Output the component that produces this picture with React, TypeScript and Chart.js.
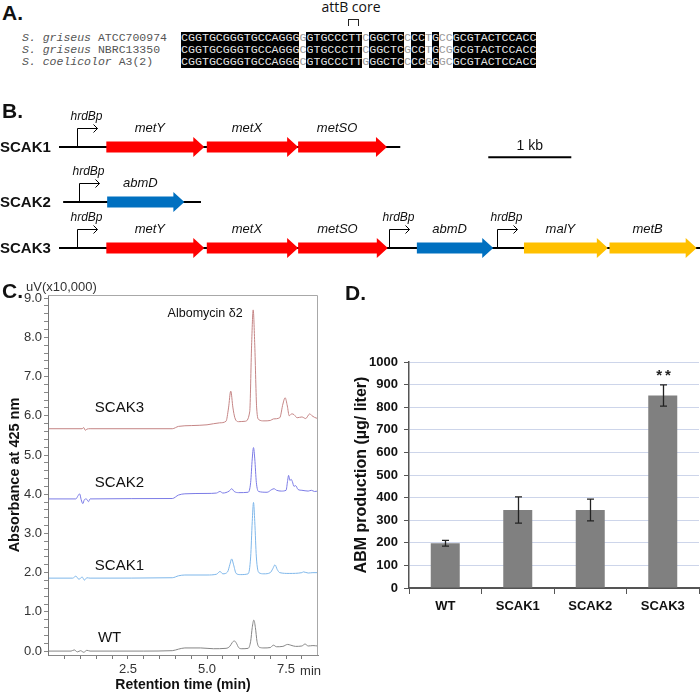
import React, { useEffect, useRef } from 'react';
import { Chart, registerables } from 'chart.js';
Chart.register(...registerables);

const FONT = '"Liberation Sans", Arial, Helvetica, sans-serif';
const MONO = '"Liberation Mono", "Courier New", monospace';

// ---------------- Panel A: attB alignment ----------------
const speciesGenus = ['S. griseus', 'S. griseus', 'S. coelicolor'];
const speciesStrain = ['ATCC700974', 'NBRC13350', 'A3(2)'];
const alignRows = [
  'CGGTGCGGGTGCCAGGGGGTGCCCTTCGGCTCCCCTGCCGCGTACTCCACC',
  'CGGTGCGGGTGCCAGGGCGTGCCCTTCGGCTCGCCTGCGGCGTACTCCACC',
  'CGGTGCGGGTGCCAGGGCGTGCCCTTGGGCTCCCCGGGCGCGTACTCCACC',
];
const attbLabel = 'attB core';

// ---------------- Panel B: constructs (kb) ----------------
const constructNames = ['SCAK1', 'SCAK2', 'SCAK3'];
const constructTrackY = [3.35, 6.32, 8.81];
const backboneStartKb = [0, 0.05, 0];
const backboneEndKb = [4.11, 1.71, 7.72];
const geneNames = ['metY', 'metX', 'metSO', 'abmD', 'metY', 'metX', 'metSO', 'abmD', 'malY', 'metB'];
const geneTrack = [0, 0, 0, 1, 2, 2, 2, 2, 2, 2];
const geneStartKb = [0.57, 1.78, 2.88, 0.58, 0.57, 1.78, 2.88, 4.31, 5.6, 6.63];
const geneEndKb = [1.75, 2.88, 3.95, 1.51, 1.75, 2.88, 3.96, 5.23, 6.61, 7.68];
const promoterName = 'hrdBp';
const promoterTrack = [0, 1, 2, 2, 2];
const promoterKb = [0.22, 0.24, 0.22, 3.98, 5.27];
const scaleBarKb = [5.17, 6.17];
const scaleBarY = 3.9;
const scaleBarLabel = '1 kb';

// ---------------- Panel C: HPLC traces (min, uV x10,000) ----------------
const wtTrace = [[0,0],[0.7,0],[0.8,0.03],[0.9,-0.02],[1.0,0.01],[1.1,-0.03],[1.2,0.02],[1.3,0],[2.0,0],[3.0,0],[3.9,0.01],[4.1,0.05],[4.3,0.08],[4.8,0.08],[5.2,0.06],[5.6,0.07],[5.72,0.12],[5.8,0.22],[5.86,0.26],[5.93,0.2],[6.0,0.09],[6.1,0.06],[6.3,0.07],[6.38,0.25],[6.43,0.6],[6.48,0.79],[6.53,0.6],[6.58,0.25],[6.65,0.1],[6.8,0.08],[7.0,0.09],[7.1,0.15],[7.2,0.11],[7.4,0.12],[7.55,0.17],[7.65,0.15],[7.8,0.12],[8.0,0.13],[8.1,0.18],[8.2,0.13],[8.35,0.14],[8.5,0.13]];
const scak1Trace = [[0,1.86],[0.75,1.86],[0.85,1.91],[0.95,1.83],[1.05,1.89],[1.12,1.81],[1.2,1.87],[1.3,1.86],[3.9,1.87],[4.1,1.92],[4.3,1.94],[5.0,1.94],[5.3,1.96],[5.41,2.03],[5.5,1.97],[5.65,2.02],[5.72,2.2],[5.78,2.35],[5.84,2.2],[5.92,1.98],[6.05,1.95],[6.3,1.97],[6.38,2.4],[6.43,3.3],[6.47,3.79],[6.51,3.3],[6.56,2.4],[6.64,2.0],[6.8,1.97],[7.0,2.0],[7.08,2.1],[7.15,2.2],[7.22,2.08],[7.3,2.0],[7.6,1.98],[8.0,2.0],[8.05,2.02],[8.2,1.99],[8.35,2.0],[8.5,2.0]];
const scak2Trace = [[0,3.88],[0.85,3.88],[0.92,3.96],[0.97,4.01],[1.02,3.86],[1.07,3.76],[1.12,3.86],[1.18,3.88],[1.25,3.81],[1.3,3.88],[3.9,3.89],[4.1,3.98],[4.3,4.01],[5.0,4.02],[5.3,4.03],[5.41,4.07],[5.5,4.03],[5.7,4.08],[5.78,4.14],[5.86,4.07],[6.0,4.04],[6.3,4.05],[6.38,4.3],[6.43,4.9],[6.47,5.19],[6.51,4.9],[6.56,4.3],[6.63,4.07],[6.9,4.05],[7.05,4.12],[7.12,4.14],[7.2,4.1],[7.35,4.08],[7.5,4.1],[7.55,4.35],[7.58,4.48],[7.62,4.35],[7.66,4.38],[7.7,4.32],[7.75,4.2],[7.8,4.22],[7.88,4.12],[8.0,4.1],[8.2,4.08],[8.3,4.1],[8.4,4.07],[8.5,4.08]];
const scak3Trace = [[0,5.67],[1.05,5.67],[1.1,5.7],[1.15,5.63],[1.2,5.66],[1.3,5.67],[3.9,5.67],[4.1,5.73],[4.5,5.75],[5.0,5.77],[5.4,5.82],[5.6,5.86],[5.68,6.2],[5.75,6.63],[5.82,6.2],[5.88,5.95],[6.0,5.85],[6.2,5.86],[6.35,6.1],[6.41,7.8],[6.46,8.7],[6.51,7.8],[6.57,6.2],[6.64,5.9],[6.8,5.87],[7.0,5.88],[7.1,5.92],[7.3,5.95],[7.4,6.3],[7.47,6.46],[7.54,6.25],[7.6,6.0],[7.68,6.05],[7.75,6.03],[7.85,5.95],[8.0,5.97],[8.12,5.93],[8.25,6.05],[8.32,6.0],[8.4,5.96],[8.5,5.93]];
const traceNames = ['SCAK3', 'SCAK2', 'SCAK1', 'WT'];
const traceData = [scak3Trace, scak2Trace, scak1Trace, wtTrace];
const traceLabelAt = [[1.45, 6.2], [1.45, 4.3], [1.45, 2.18], [1.55, 0.33]];
const peakLabel = 'Albomycin δ2';
const peakLabelAt = [4.94, 8.6];
const rtTickValues = [0.5, 1.0, 1.5, 2.0, 2.5, 3.0, 3.5, 4.0, 4.5, 5.0, 5.5, 6.0, 6.5, 7.0, 7.5, 8.0];
const rtLabelValues = [2.5, 5.0, 7.5];
const absLabelValues = [0, 1, 2, 3, 4, 5, 6, 7, 8, 9];
const absMinorStep = 0.2;

// ---------------- Panel D: ABM production ----------------
const strainLabels = ['WT', 'SCAK1', 'SCAK2', 'SCAK3'];
const abmProduction = [198, 345, 345, 852];
const abmError = [13, 58, 48, 47];
const abmSignificance = ['', '', '', '**'];

const geneColorOf: Record<string, string> = {
  metY: '#ff0000', metX: '#ff0000', metSO: '#ff0000',
  abmD: '#0070c0', malY: '#ffc000', metB: '#ffc000',
};
const traceColors = ['#c58585', '#7b7be6', '#7fb7ea', '#858585'];

function makeB(canvas: HTMLCanvasElement) {
  const plugin = {
    id: 'geneMap',
    afterDraw(chart: any) {
      const { ctx, scales: { x, y } } = chart;
      ctx.save();
      constructNames.forEach((name, t) => {
        const py = y.getPixelForValue(constructTrackY[t]);
        ctx.strokeStyle = '#000';
        ctx.lineWidth = 2;
        ctx.beginPath();
        ctx.moveTo(x.getPixelForValue(backboneStartKb[t]), py);
        ctx.lineTo(x.getPixelForValue(backboneEndKb[t]), py);
        ctx.stroke();
        ctx.fillStyle = '#111';
        ctx.font = `bold 15px ${FONT}`;
        ctx.textAlign = 'left';
        ctx.textBaseline = 'middle';
        ctx.fillText(name, 0, py + 1);
      });
      geneNames.forEach((g, i) => {
        const py = y.getPixelForValue(constructTrackY[geneTrack[i]]);
        const x1 = x.getPixelForValue(geneStartKb[i]);
        const x2 = x.getPixelForValue(geneEndKb[i]);
        const bodyH = 5.5, headH = 10, headL = 11;
        const hx = Math.max(x1, x2 - headL);
        ctx.beginPath();
        ctx.moveTo(x1, py - bodyH);
        ctx.lineTo(hx, py - bodyH);
        ctx.lineTo(hx, py - headH);
        ctx.lineTo(x2, py);
        ctx.lineTo(hx, py + headH);
        ctx.lineTo(hx, py + bodyH);
        ctx.lineTo(x1, py + bodyH);
        ctx.closePath();
        ctx.fillStyle = geneColorOf[g];
        ctx.fill();
        ctx.fillStyle = '#111';
        ctx.font = `italic 13px ${FONT}`;
        ctx.textAlign = 'center';
        ctx.textBaseline = 'middle';
        ctx.fillText(g, (x1 + hx) / 2, py - 19);
      });
      promoterKb.forEach((kb, i) => {
        const px = Math.round(x.getPixelForValue(kb)) + 0.5;
        const py = y.getPixelForValue(constructTrackY[promoterTrack[i]]);
        const top = Math.round(py - 19) + 0.5;
        ctx.strokeStyle = '#000';
        ctx.lineWidth = 1;
        ctx.beginPath();
        ctx.moveTo(px, py);
        ctx.lineTo(px, top);
        ctx.lineTo(px + 20, top);
        ctx.stroke();
        ctx.beginPath();
        ctx.moveTo(px + 16, top - 4);
        ctx.lineTo(px + 20, top);
        ctx.lineTo(px + 16, top + 4);
        ctx.stroke();
        ctx.fillStyle = '#111';
        ctx.font = `italic 12px ${FONT}`;
        ctx.textAlign = 'center';
        ctx.textBaseline = 'middle';
        ctx.fillText(promoterName, px + 9, py - 30);
      });
      const sy = y.getPixelForValue(scaleBarY);
      const sx1 = x.getPixelForValue(scaleBarKb[0]);
      const sx2 = x.getPixelForValue(scaleBarKb[1]);
      ctx.strokeStyle = '#000';
      ctx.lineWidth = 2;
      ctx.beginPath();
      ctx.moveTo(sx1, sy);
      ctx.lineTo(sx2, sy);
      ctx.stroke();
      ctx.fillStyle = '#111';
      ctx.font = `14px ${FONT}`;
      ctx.textAlign = 'center';
      ctx.textBaseline = 'middle';
      ctx.fillText(scaleBarLabel, (sx1 + sx2) / 2, sy - 11);
      ctx.restore();
    },
  };
  return new Chart(canvas, {
    type: 'scatter',
    data: { datasets: [] },
    options: {
      animation: false,
      responsive: false,
      events: [],
      layout: { padding: { left: 59, right: 0, top: 0, bottom: 0 } },
      plugins: { legend: { display: false }, tooltip: { enabled: false } },
      scales: {
        x: { type: 'linear', min: 0, max: 7.72, display: false },
        y: { type: 'linear', min: 0, max: 10, reverse: true, display: false },
      },
    },
    plugins: [plugin],
  } as any);
}

function makeC(canvas: HTMLCanvasElement) {
  const absTicks: number[] = [];
  for (let k = 0; k <= Math.round(9 / absMinorStep); k++) absTicks.push(Math.round(k * absMinorStep * 10) / 10);
  const plugin = {
    id: 'chromAnno',
    afterDraw(chart: any) {
      const { ctx, chartArea: a, scales: { x, y } } = chart;
      ctx.save();
      ctx.strokeStyle = '#a8a8a8';
      ctx.lineWidth = 1;
      ctx.beginPath();
      ctx.moveTo(a.left, a.top + 0.5);
      ctx.lineTo(a.right - 0.5, a.top + 0.5);
      ctx.lineTo(a.right - 0.5, a.bottom);
      ctx.stroke();
      ctx.fillStyle = '#333';
      ctx.font = `13px ${FONT}`;
      ctx.textAlign = 'left';
      ctx.textBaseline = 'middle';
      ctx.fillText('uV(x10,000)', a.left - 22, a.top - 8);
      ctx.fillText('min', x.getPixelForValue(7.5) + 14, a.bottom + 16);
      ctx.fillStyle = '#111';
      ctx.font = `15px ${FONT}`;
      traceNames.forEach((n, i) => {
        ctx.fillText(n, x.getPixelForValue(traceLabelAt[i][0]), y.getPixelForValue(traceLabelAt[i][1]));
      });
      ctx.font = `12.5px ${FONT}`;
      ctx.textAlign = 'center';
      ctx.fillText(peakLabel, x.getPixelForValue(peakLabelAt[0]), y.getPixelForValue(peakLabelAt[1]));
      ctx.restore();
    },
  };
  return new Chart(canvas, {
    type: 'line',
    data: {
      datasets: traceData.map((tr, i) => ({
        label: traceNames[i],
        data: tr.map(([t, v]) => ({ x: t, y: v })),
        borderColor: traceColors[i],
        borderWidth: 1,
        pointRadius: 0,
        cubicInterpolationMode: 'monotone',
        fill: false,
      })),
    },
    options: {
      animation: false,
      responsive: false,
      events: [],
      layout: { padding: { left: 0, right: 12, top: 15, bottom: 0 } },
      plugins: { legend: { display: false }, tooltip: { enabled: false } },
      scales: {
        x: {
          type: 'linear', min: -0.03, max: 8.51,
          afterBuildTicks: (ax: any) => { ax.ticks = rtTickValues.map((v) => ({ value: v })); },
          afterFit: (ax: any) => { ax.height = 40; },
          ticks: {
            autoSkip: false, maxRotation: 0, padding: 3, color: '#333',
            font: { family: FONT, size: 13 },
            callback: (v: number) => (rtLabelValues.some((l) => Math.abs(l - v) < 1e-6) ? v.toFixed(1) : ''),
          },
          grid: { drawOnChartArea: false, drawTicks: true, tickLength: 4, tickColor: '#777' },
          border: { display: true, color: '#888', width: 1 },
          title: {
            display: true, text: 'Retention time (min)', color: '#111',
            font: { family: FONT, size: 14, weight: 'bold' }, padding: { top: 0, bottom: 1 },
          },
        },
        y: {
          type: 'linear', min: -0.1, max: 9.08,
          afterBuildTicks: (ax: any) => { ax.ticks = absTicks.map((v) => ({ value: v })); },
          afterFit: (ax: any) => { ax.width = 48; },
          ticks: {
            autoSkip: false, padding: 2, color: '#333',
            font: { family: FONT, size: 13 },
            callback: (v: number) => (absLabelValues.some((l) => Math.abs(l - v) < 1e-6) ? v.toFixed(1) : ''),
          },
          grid: { drawOnChartArea: false, drawTicks: true, tickLength: 4, tickColor: '#888' },
          border: { display: true, color: '#777', width: 1 },
          title: {
            display: true, text: 'Absorbance at 425 nm', color: '#111',
            font: { family: FONT, size: 14.5, weight: 'bold' }, padding: { top: 6, bottom: 0 },
          },
        },
      },
    },
    plugins: [plugin],
  } as any);
}

function makeD(canvas: HTMLCanvasElement) {
  const plugin = {
    id: 'errBars',
    afterDatasetsDraw(chart: any) {
      const { ctx, scales: { y } } = chart;
      const meta = chart.getDatasetMeta(0);
      ctx.save();
      ctx.strokeStyle = '#222';
      ctx.lineWidth = 1.3;
      meta.data.forEach((bar: any, i: number) => {
        const top = y.getPixelForValue(abmProduction[i] + abmError[i]);
        const bot = y.getPixelForValue(abmProduction[i] - abmError[i]);
        const bx = Math.round(bar.x) + 0.5;
        ctx.beginPath();
        ctx.moveTo(bx, top); ctx.lineTo(bx, bot);
        ctx.moveTo(bx - 3.5, top); ctx.lineTo(bx + 3.5, top);
        ctx.moveTo(bx - 3.5, bot); ctx.lineTo(bx + 3.5, bot);
        ctx.stroke();
        if (abmSignificance[i]) {
          ctx.fillStyle = '#222';
          ctx.font = `bold 15px ${FONT}`;
          (ctx as any).letterSpacing = '3px';
          ctx.textAlign = 'center';
          ctx.textBaseline = 'middle';
          ctx.fillText(abmSignificance[i], bx + 1.5, top - 9);
          (ctx as any).letterSpacing = '0px';
        }
      });
      ctx.restore();
    },
  };
  return new Chart(canvas, {
    type: 'bar',
    data: {
      labels: strainLabels,
      datasets: [{
        data: abmProduction, backgroundColor: '#808080', borderWidth: 0,
        barPercentage: 0.5, categoryPercentage: 0.8,
      }],
    },
    options: {
      animation: false,
      responsive: false,
      events: [],
      layout: { padding: { left: 0, right: 1, top: 82, bottom: 0 } },
      plugins: { legend: { display: false }, tooltip: { enabled: false } },
      scales: {
        x: {
          afterFit: (ax: any) => { ax.height = 107; },
          ticks: { color: '#111', padding: 5, font: { family: FONT, size: 13, weight: 'bold' } },
          grid: { drawOnChartArea: false, drawTicks: true, tickLength: 6, tickColor: '#555', offset: true },
          border: { display: true, color: '#555', width: 2 },
        },
        y: {
          min: 0, max: 1000,
          afterFit: (ax: any) => { ax.width = 79; },
          ticks: {
            stepSize: 100, color: '#111', padding: 6, font: { family: FONT, size: 13, weight: 'bold' },
            callback: (v: number) => String(Math.round(v)),
          },
          grid: { color: '#cdd5ea', lineWidth: 1, drawTicks: true, tickLength: 5, tickColor: '#555' },
          border: { display: true, color: '#555', width: 1.5 },
          title: {
            display: true, text: 'ABM production (µg/ liter)', color: '#111',
            font: { family: FONT, size: 16, weight: 'bold' }, padding: { top: 22, bottom: 0 },
          },
        },
      },
    },
    plugins: [plugin],
  } as any);
}

const letterStyle = (left: number, top: number): React.CSSProperties => ({
  position: 'absolute', left, top, font: `bold 21px/21px ${FONT}`, color: '#111', zIndex: 2,
});

export default function App() {
  const bRef = useRef<HTMLCanvasElement>(null);
  const cRef = useRef<HTMLCanvasElement>(null);
  const dRef = useRef<HTMLCanvasElement>(null);
  useEffect(() => {
    const charts = [makeB(bRef.current!), makeC(cRef.current!), makeD(dRef.current!)];
    return () => charts.forEach((c) => c.destroy());
  }, []);
  return (
    <div style={{ position: 'absolute', left: 0, top: 0, width: 700, height: 695, background: '#fff', overflow: 'hidden' }}>
      <div style={letterStyle(2, 2)}>A.</div>
      <div style={letterStyle(2, 100)}>B.</div>
      <div style={letterStyle(2, 280)}>C.</div>
      <div style={letterStyle(345, 282)}>D.</div>

      <div style={{ position: 'absolute', left: 311, top: -1, width: 80, textAlign: 'center', font: `14px/16px "Open Sans", ${FONT}`, color: '#111' }}>{attbLabel}</div>
      <div style={{ position: 'absolute', left: 348, top: 19, width: 9, height: 6, borderTop: '1px solid #222', borderLeft: '1px solid #222', borderRight: '1px solid #222' }} />

      <div style={{ position: 'absolute', left: 22, top: 32, font: `11.5px/12px ${MONO}`, color: '#555', whiteSpace: 'pre' }}>
        {speciesGenus.map((g, i) => (
          <div key={i} style={{ height: 12 }}><i>{g}</i>{' '}{speciesStrain[i]}</div>
        ))}
      </div>
      <div style={{ position: 'absolute', left: 181, top: 32, font: `11.63px/12px ${MONO}`, whiteSpace: 'pre' }}>
        {alignRows.map((row, r) => (
          <div key={r} style={{ height: 12, display: 'flex' }}>
            {row.split('').map((ch, i) => {
              const cons = alignRows.every((s) => s[i] === ch);
              return (
                <span key={i} style={{ display: 'inline-block', width: 6.98, height: 12, textAlign: 'center', background: cons ? '#000' : '#fff', color: cons ? '#e4e4e4' : '#9a9a9a' }}>{ch}</span>
              );
            })}
          </div>
        ))}
      </div>

      <canvas ref={bRef} width={700} height={185} style={{ position: 'absolute', left: 0, top: 85 }} />
      <canvas ref={cRef} width={330} height={415} style={{ position: 'absolute', left: 0, top: 280 }} />
      <canvas ref={dRef} width={370} height={415} style={{ position: 'absolute', left: 330, top: 280 }} />
    </div>
  );
}
